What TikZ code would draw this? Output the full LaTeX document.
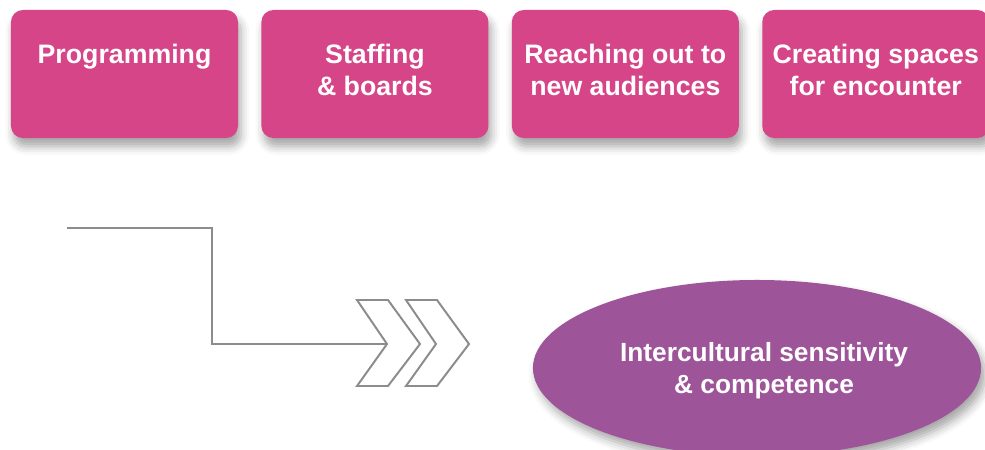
\documentclass[tikz,border=0pt]{standalone}
\usepackage{fontspec}
\setmainfont{Liberation Sans}
\usepackage{tikz}
\usetikzlibrary{positioning,shapes.geometric,shadows.blur}
\definecolor{pinkbox}{HTML}{D54587}
\definecolor{plum}{HTML}{9D5499}
\definecolor{linegrey}{HTML}{8C8C8C}

\tikzset{
  areabox/.style={fill=pinkbox,rounded corners=0.3cm,minimum width=5.675cm,minimum height=3.2cm,
    text=white,font=\bfseries\fontsize{19}{22.8}\selectfont,align=center,
    text height=30pt,text depth=0pt,
    blur shadow={shadow xshift=2pt,shadow yshift=-6pt,shadow blur radius=6pt,shadow opacity=35}},
  goal/.style={ellipse,fill=plum,minimum width=11.2cm,minimum height=4.4cm,
    text=white,font=\bfseries\fontsize{18.7}{22.5}\selectfont,align=center,
    text height=36pt,text depth=0pt,
    blur shadow={shadow xshift=3pt,shadow yshift=-5pt,shadow blur radius=6pt,shadow opacity=35}},
  flowline/.style={draw=linegrey,line width=1.4pt},
  chevron/.style={draw=linegrey,line width=1.4pt,fill=white,line join=miter}
}

\begin{document}
\begin{tikzpicture}[x=0.025cm,y=-0.025cm]
\useasboundingbox (0,0) rectangle (985,449);

\node[areabox] (prog) at (124.5,74) {Programming\\\mbox{}};
\node[areabox,right=0.57cm of prog] (staff) {Staffing\\\& boards};
\node[areabox,right=0.57cm of staff] (reach) {Reaching out to\\new audiences};
\node[areabox,right=0.57cm of reach] (space) {Creating spaces\\for encounter};

\coordinate (start) at (67,228);
\coordinate (bend) at (212,344);
\coordinate (notch) at (387,344);
\draw[flowline] (start) -| (bend) -- (notch);

\foreach \dx in {0,49}
  \draw[chevron,shift={(\dx,0)}] (357,300) -- (388,300) -- (420,344) -- (388,386) -- (357,386) -- (387,344) -- cycle;

\node[goal] (comp) at (757,368) {\hspace*{10pt}Intercultural sensitivity\\\hspace*{10pt}\& competence};
\end{tikzpicture}
\end{document}
